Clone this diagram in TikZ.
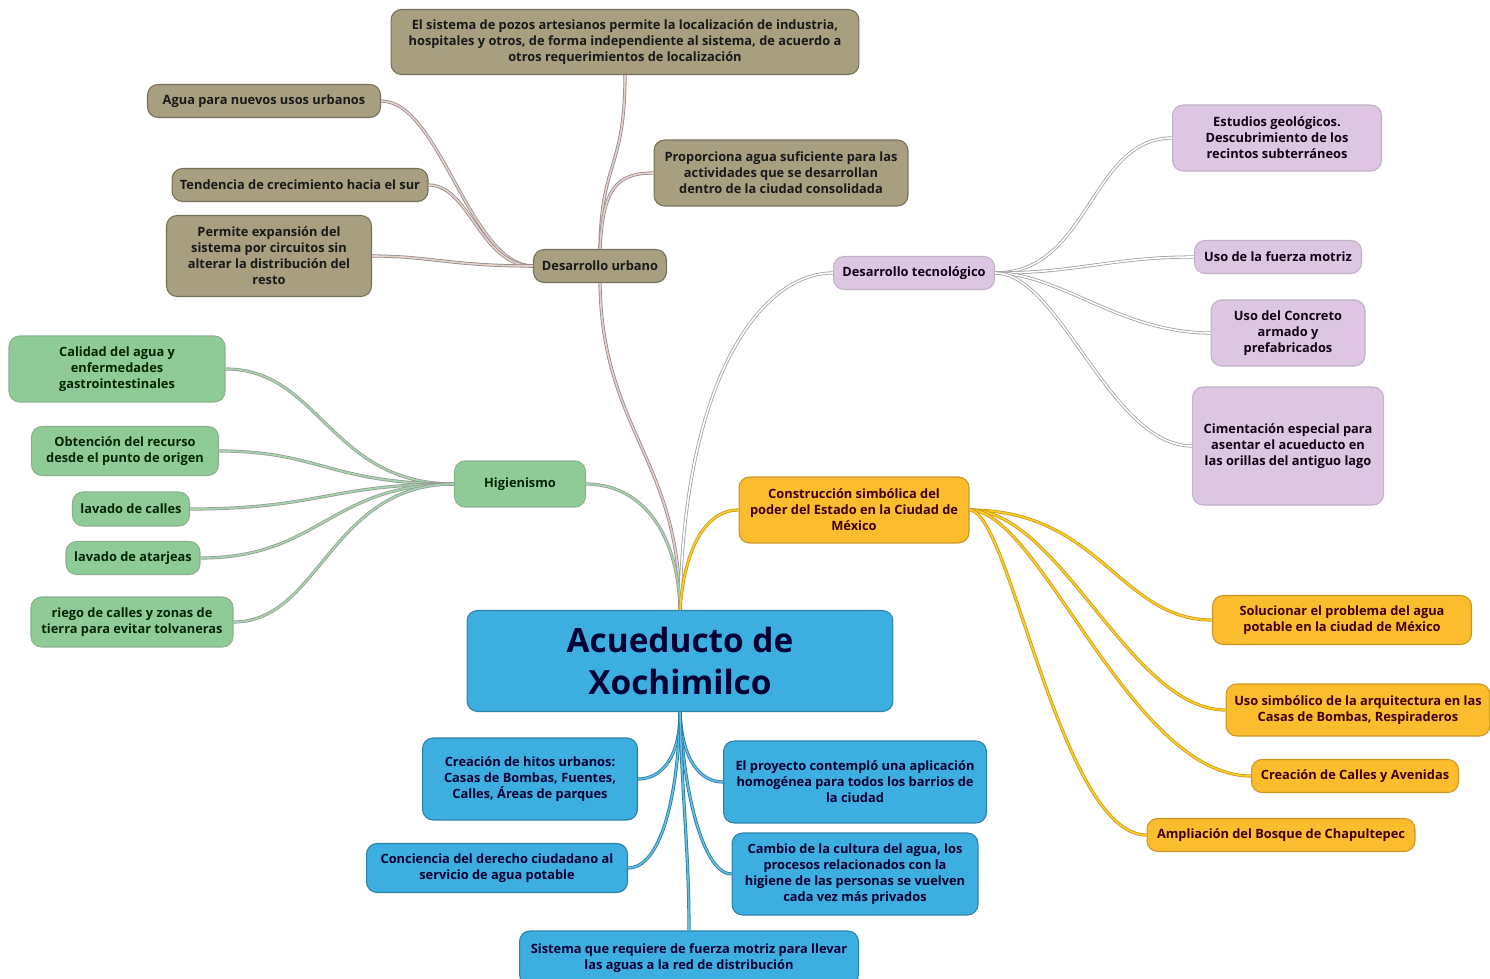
\documentclass[tikz,border=0pt]{standalone}
\usepackage{fontspec}
\setmainfont{Open Sans}

\definecolor{cafe}{HTML}{A89F80}
\definecolor{verde}{HTML}{8FCB96}
\definecolor{lila}{HTML}{DCC6E2}
\definecolor{ambar}{HTML}{FBBC2E}
\definecolor{azul}{HTML}{3CAEDF}

\tikzset{
  caja/.style={rounded corners=6pt,align=center,inner sep=1pt,line width=0.6pt,
    font=\fontsize{7.3}{9.1}\selectfont\bfseries},
  cafebox/.style={caja,fill=cafe,draw=cafe!70!black,text=black!90},
  verdebox/.style={caja,fill=verde,draw=verde!65!gray,text=black!85!green},
  lilabox/.style={caja,fill=lila,draw=lila!70!gray,text=black!85!violet},
  ambarbox/.style={caja,fill=ambar,draw=ambar!80!black,text=black!75!red},
  azulbox/.style={caja,fill=azul,draw=azul!75!black,text=black!80!blue},
  rama/.style={line width=0.45pt,double distance=0.9pt},
  ramacafe/.style={rama,draw=gray!90,double=cafe!45!pink!60!white},
  ramaverde/.style={rama,draw=gray!80,double=verde!80!white},
  ramalila/.style={rama,draw=gray!75,double=white},
  ramaambar/.style={rama,draw=ambar!80!black,double=ambar!70!yellow},
  ramaazul/.style={rama,draw=azul!70!black,double=azul!80!white}
}

\begin{document}
\begin{tikzpicture}[x=0.02cm,y=-0.02cm]
\useasboundingbox (0,0) rectangle (1490,979);

% centro
\node[azulbox,minimum width=8.52cm,minimum height=2.02cm,
  font=\fontsize{19}{24}\selectfont\bfseries] (central) at (680,661) {Acueducto de\\Xochimilco};

% desarrollo urbano
\node[cafebox,minimum width=2.66cm,minimum height=0.66cm] (urbano) at (600,266) {Desarrollo urbano};
\node[cafebox,minimum width=9.36cm,minimum height=1.3cm] (pozos) at (625,42)
  {El sistema de pozos artesianos permite la localización de industria,\\
   hospitales y otros, de forma independiente al sistema, de acuerdo a\\
   otros requerimientos de localización};
\node[cafebox,minimum width=4.66cm,minimum height=0.66cm] (agua) at (264,101) {Agua para nuevos usos urbanos};
\node[cafebox,minimum width=5.12cm,minimum height=0.66cm] (tendencia) at (300,185) {Tendencia de crecimiento hacia el sur};
\node[cafebox,minimum width=4.1cm,minimum height=1.62cm] (permite) at (269,256)
  {Permite expansión del\\sistema por circuitos sin\\alterar la distribución del\\resto};
\node[cafebox,minimum width=5.08cm,minimum height=1.32cm] (proporciona) at (781,173)
  {Proporciona agua suficiente para las\\actividades que se desarrollan\\dentro de la ciudad consolidada};

% desarrollo tecnologico
\node[lilabox,minimum width=3.22cm,minimum height=0.66cm] (tecno) at (914,273) {Desarrollo tecnológico};
\node[lilabox,minimum width=4.18cm,minimum height=1.32cm] (estudios) at (1277,138)
  {Estudios geológicos.\\Descubrimiento de los\\recintos subterráneos};
\node[lilabox,minimum width=3.34cm,minimum height=0.66cm] (fuerza) at (1278,257) {Uso de la fuerza motriz};
\node[lilabox,minimum width=3.08cm,minimum height=1.32cm] (concreto) at (1288,333)
  {Uso del Concreto\\armado y\\prefabricados};
\node[lilabox,minimum width=3.82cm,minimum height=2.36cm] (cimentacion) at (1288,446)
  {Cimentación especial para\\asentar el acueducto en\\las orillas del antiguo lago};

% construccion simbolica
\node[ambarbox,minimum width=4.6cm,minimum height=1.32cm] (constr) at (854,510)
  {Construcción simbólica del\\poder del Estado en la Ciudad de\\México};
\node[ambarbox,minimum width=5.18cm,minimum height=0.98cm] (solucionar) at (1342,620)
  {Solucionar el problema del agua\\potable en la ciudad de México};
\node[ambarbox,minimum width=5.28cm,minimum height=1.04cm] (simbolico) at (1358,710)
  {Uso simbólico de la arquitectura en las\\Casas de Bombas, Respiraderos};
\node[ambarbox,minimum width=4.14cm,minimum height=0.66cm] (avenidas) at (1355,776) {Creación de Calles y Avenidas};
\node[ambarbox,minimum width=5.36cm,minimum height=0.66cm] (bosque) at (1281,835) {Ampliación del Bosque de Chapultepec};

% higienismo
\node[verdebox,minimum width=2.62cm,minimum height=0.92cm] (higien) at (520,484) {Higienismo};
\node[verdebox,minimum width=4.32cm,minimum height=1.32cm] (calidad) at (117,369)
  {Calidad del agua y\\enfermedades\\gastrointestinales};
\node[verdebox,minimum width=3.74cm,minimum height=0.98cm] (obtencion) at (125,451)
  {Obtención del recurso\\desde el punto de origen};
\node[verdebox,minimum width=2.34cm,minimum height=0.68cm] (lavcalles) at (131,509) {lavado de calles};
\node[verdebox,minimum width=2.68cm,minimum height=0.66cm] (atarjeas) at (133,558) {lavado de atarjeas};
\node[verdebox,minimum width=4.04cm,minimum height=1.0cm] (riego) at (132,622)
  {riego de calles y zonas de\\tierra para evitar tolvaneras};

% ramas de abajo
\node[azulbox,minimum width=4.3cm,minimum height=1.64cm] (hitos) at (530,779)
  {Creación de hitos urbanos:\\Casas de Bombas, Fuentes,\\Calles, Áreas de parques};
\node[azulbox,minimum width=5.26cm,minimum height=1.64cm] (proyecto) at (855,782)
  {El proyecto contempló una aplicación\\homogénea para todos los barrios de\\la ciudad};
\node[azulbox,minimum width=5.22cm,minimum height=0.98cm] (conciencia) at (497,868)
  {Conciencia del derecho ciudadano al\\servicio de agua potable};
\node[azulbox,minimum width=4.92cm,minimum height=1.64cm] (cambio) at (855,874)
  {Cambio de la cultura del agua, los\\procesos relacionados con la\\higiene de las personas se vuelven\\cada vez más privados};
\node[azulbox,minimum width=6.78cm,minimum height=1.08cm] (sistema) at (689,958)
  {Sistema que requiere de fuerza motriz para llevar\\las aguas a la red de distribución};

% conectores del centro
\draw[ramacafe] (central.north) .. controls (680,460) and (602,430) .. (urbano.south);
\draw[ramaverde] (central.north) .. controls (678,530) and (640,484) .. (higien.east);
\draw[ramalila] (central.north) .. controls (683,380) and (760,273) .. (tecno.west);
\draw[ramaambar] (central.north) .. controls (684,550) and (705,510) .. (constr.west);

\draw[ramacafe] (urbano.north) .. controls (601,160) and (625,170) .. (pozos.south);
\draw[ramacafe] (urbano.north) .. controls (603,190) and (615,173) .. (proporciona.west);
\draw[ramacafe] (urbano.west) .. controls (470,266) and (440,101) .. (agua.east);
\draw[ramacafe] (urbano.west) .. controls (480,266) and (470,185) .. (tendencia.east);
\draw[ramacafe] (urbano.west) .. controls (450,266) and (430,256) .. (permite.east);

\draw[ramalila] (tecno.east) .. controls (1090,273) and (1090,138) .. (estudios.west);
\draw[ramalila] (tecno.east) .. controls (1080,273) and (1110,257) .. (fuerza.west);
\draw[ramalila] (tecno.east) .. controls (1060,273) and (1120,333) .. (concreto.west);
\draw[ramalila] (tecno.east) .. controls (1060,273) and (1110,446) .. (cimentacion.west);

\draw[ramaambar] (constr.east) .. controls (1100,510) and (1120,620) .. (solucionar.west);
\draw[ramaambar] (constr.east) .. controls (1060,510) and (1130,710) .. (simbolico.west);
\draw[ramaambar] (constr.east) .. controls (1040,510) and (1130,776) .. (avenidas.west);
\draw[ramaambar] (constr.east) .. controls (1010,510) and (1060,835) .. (bosque.west);

\foreach \hoja in {calidad,obtencion,lavcalles,atarjeas,riego}
  \draw[ramaverde] (higien.west) .. controls (330,484) and (320,0 |- \hoja.east) .. (\hoja.east);

\draw[ramaazul] (central.south) .. controls (680,760) and (660,779) .. (hitos.east);
\draw[ramaazul] (central.south) .. controls (682,760) and (700,782) .. (proyecto.west);
\draw[ramaazul] (central.south) .. controls (678,800) and (660,868) .. (conciencia.east);
\draw[ramaazul] (central.south) .. controls (684,800) and (705,874) .. (cambio.west);
\draw[ramaazul] (central.south) .. controls (682,800) and (689,850) .. (sistema.north);
\end{tikzpicture}
\end{document}
